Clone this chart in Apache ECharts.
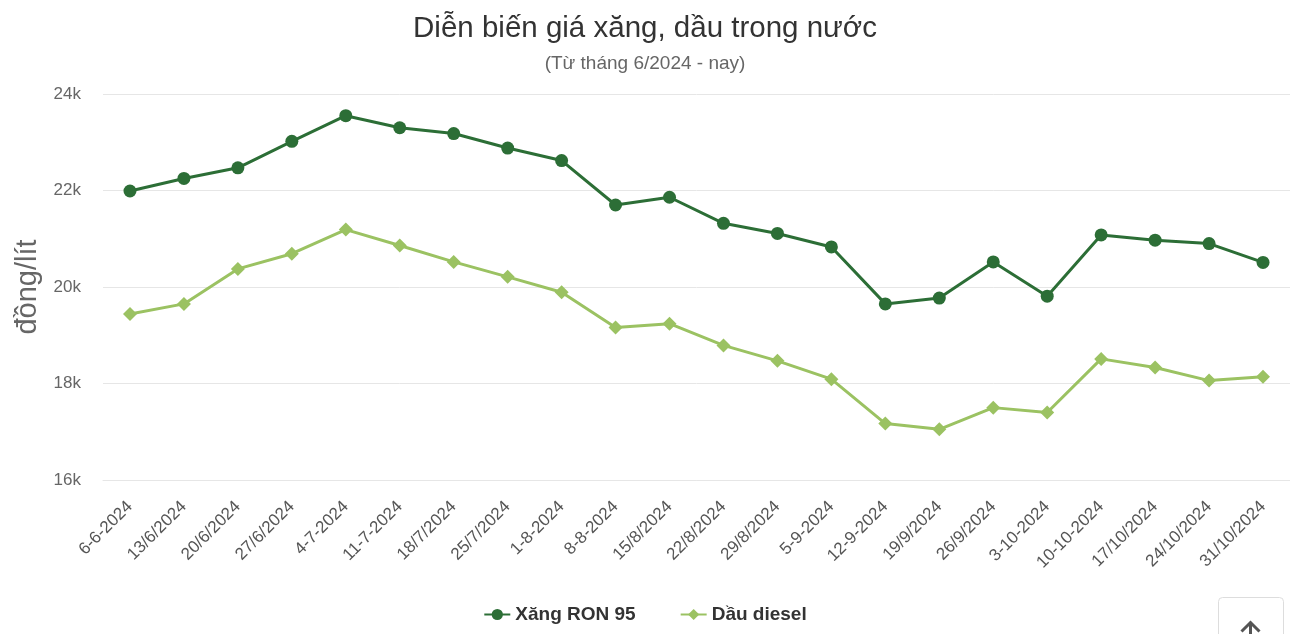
<!DOCTYPE html>
<html>
<head>
<meta charset="utf-8">
<script src="https://cdn.jsdelivr.net/npm/echarts@6/dist/echarts.min.js"></script>
<style>
  html, body { margin: 0; padding: 0; background: #fff; }
  #chart { width: 1290px; height: 634px; }
</style>
</head>
<body>
<div id="chart"></div>
<script>
const dates = [
  '6-6-2024', '13/6/2024', '20/6/2024', '27/6/2024', '4-7-2024', '11-7-2024',
  '18/7/2024', '25/7/2024', '1-8-2024', '8-8-2024', '15/8/2024', '22/8/2024',
  '29/8/2024', '5-9-2024', '12-9-2024', '19/9/2024', '26/9/2024', '3-10-2024',
  '10-10-2024', '17/10/2024', '24/10/2024', '31/10/2024'
];
const ron95 = [
  21990, 22250, 22470, 23020, 23550, 23300, 23180, 22880, 22620, 21700, 21860,
  21320, 21110, 20830, 19650, 19770, 20520, 19810, 21080, 20970, 20900, 20510
];
const diesel = [
  19440, 19650, 20375, 20690, 21190, 20860, 20520, 20210, 19890, 19160, 19240,
  18790, 18470, 18090, 17170, 17050, 17500, 17400, 18510, 18330, 18060, 18140
];
const yTicks = [16000, 18000, 20000, 22000, 24000];

const font = '"Liberation Sans", Arial, sans-serif';
const chart = echarts.init(document.getElementById('chart'), null, { renderer: 'canvas' });

chart.setOption({
  animation: false,
  textStyle: { fontFamily: font },
  title: {
    text: 'Diễn biến giá xăng, dầu trong nước',
    subtext: '(Từ tháng 6/2024 - nay)',
    left: 'center',
    top: 9,
    itemGap: 10,
    textStyle: { fontFamily: font, fontSize: 29.5, fontWeight: 'normal', color: '#333' },
    subtextStyle: { fontFamily: font, fontSize: 19, color: '#666' }
  },
  legend: {
    bottom: 5,
    left: 'center',
    itemGap: 44,
    itemWidth: 26,
    itemHeight: 14,
    textStyle: { fontFamily: font, fontSize: 19, fontWeight: 'bold', color: '#333' },
    data: ['Xăng RON 95', 'Dầu diesel']
  },
  grid: { left: 103, right: 0, top: 94, bottom: 154 },
  xAxis: {
    type: 'category',
    data: dates,
    boundaryGap: true,
    axisLine: { show: true, lineStyle: { color: '#e6e6e6', width: 1 } },
    axisTick: { show: false },
    axisLabel: {
      rotate: 45,
      interval: 0,
      margin: 24,
      fontFamily: font,
      fontSize: 17,
      color: '#555'
    }
  },
  yAxis: {
    type: 'value',
    min: yTicks[0],
    max: yTicks[yTicks.length - 1],
    interval: 2000,
    name: 'đồng/lít',
    nameLocation: 'middle',
    nameGap: 53,
    nameTextStyle: { fontFamily: font, fontSize: 29, color: '#666' },
    axisLine: { show: false },
    axisTick: { show: false },
    axisLabel: {
      margin: 22,
      fontFamily: font,
      fontSize: 17,
      color: '#666',
      formatter: v => (v / 1000) + 'k'
    },
    splitLine: { lineStyle: { color: '#e6e6e6', width: 1 } }
  },
  series: [
    {
      name: 'Xăng RON 95',
      type: 'line',
      data: ron95,
      symbol: 'circle',
      symbolSize: 13,
      color: '#2c6e36',
      lineStyle: { width: 3, color: '#2c6e36' },
      itemStyle: { color: '#2c6e36' }
    },
    {
      name: 'Dầu diesel',
      type: 'line',
      data: diesel,
      symbol: 'diamond',
      symbolSize: 14,
      color: '#9bc262',
      lineStyle: { width: 3, color: '#9bc262' },
      itemStyle: { color: '#9bc262' }
    }
  ],
  graphic: [
    {
      type: 'group',
      left: 1218,
      top: 597,
      children: [
        {
          type: 'rect',
          shape: { x: 0, y: 0, width: 65, height: 50, r: 4 },
          style: { fill: '#fff', stroke: '#dddddd', lineWidth: 1 }
        },
        {
          type: 'polyline',
          shape: { points: [[23, 34], [32, 25], [41, 34]] },
          style: { stroke: '#555', lineWidth: 3, fill: null }
        },
        {
          type: 'line',
          shape: { x1: 32, y1: 26, x2: 32, y2: 45 },
          style: { stroke: '#555', lineWidth: 3 }
        }
      ]
    }
  ]
});

window.addEventListener('resize', () => chart.resize());
</script>
</body>
</html>
